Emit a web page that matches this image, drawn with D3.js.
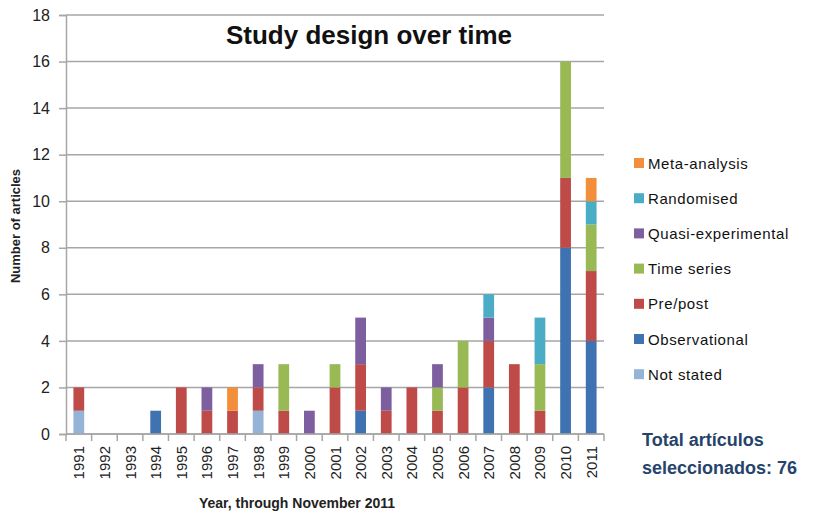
<!DOCTYPE html>
<html>
<head>
<meta charset="utf-8">
<script src="https://cdn.jsdelivr.net/npm/d3@7"></script>
<style>
	body { margin: 0; background: #fff; }
	svg { display: block; font-family: 'Liberation Sans', Arial, sans-serif; }
</style>
</head>
<body>
<div id="canvas"></div>
<script>
// Data
var years = ['1991', '1992', '1993', '1994', '1995', '1996', '1997', '1998', '1999', '2000',
	'2001', '2002', '2003', '2004', '2005', '2006', '2007', '2008', '2009', '2010', '2011'];
var seriesNames = ['Not stated', 'Observational', 'Pre/post', 'Time series',
	'Quasi-experimental', 'Randomised', 'Meta-analysis'];
var notStated      = [1, 0, 0, 0, 0, 0, 0, 1, 0, 0, 0, 0, 0, 0, 0, 0, 0, 0, 0, 0, 0];
var observational  = [0, 0, 0, 1, 0, 0, 0, 0, 0, 0, 0, 1, 0, 0, 0, 0, 2, 0, 0, 8, 4];
var prePost        = [1, 0, 0, 0, 2, 1, 1, 1, 1, 0, 2, 2, 1, 2, 1, 2, 2, 3, 1, 3, 3];
var timeSeries     = [0, 0, 0, 0, 0, 0, 0, 0, 2, 0, 1, 0, 0, 0, 1, 2, 0, 0, 2, 5, 2];
var quasi          = [0, 0, 0, 0, 0, 1, 0, 1, 0, 1, 0, 2, 1, 0, 1, 0, 1, 0, 0, 0, 0];
var randomised     = [0, 0, 0, 0, 0, 0, 0, 0, 0, 0, 0, 0, 0, 0, 0, 0, 1, 0, 2, 0, 1];
var metaAnalysis   = [0, 0, 0, 0, 0, 0, 1, 0, 0, 0, 0, 0, 0, 0, 0, 0, 0, 0, 0, 0, 1];
var yTicks = [0, 2, 4, 6, 8, 10, 12, 14, 16, 18];

var seriesValues = [notStated, observational, prePost, timeSeries, quasi, randomised, metaAnalysis];
var colors = d3.scaleOrdinal()
	.domain(seriesNames)
	.range(['#95b3d7', '#3f72b0', '#be4b48', '#98b954', '#7d5fa0', '#4aacc5', '#f38e3b']);

var rows = years.map(function(y, i) {
	var row = { year: y };
	seriesNames.forEach(function(name, s) {
		row[name] = seriesValues[s][i];
	});
	return row;
});
var series = d3.stack().keys(seriesNames)(rows);

// UI
var outerWidth = 818,
	outerHeight = 515,
	margin = { top: 15, left: 66, right: 214, bottom: 81 },
	width = outerWidth - margin.left - margin.right,
	height = outerHeight - margin.top - margin.bottom;

var svg = d3.select('#canvas').append('svg')
	.attr('width', outerWidth)
	.attr('height', outerHeight);

var g = svg.append('g')
	.attr('transform', 'translate(' + margin.left + ',' + margin.top + ')');

var xScale = d3.scaleBand().domain(years).range([0, width]).paddingInner(0.58).paddingOuter(0.29);
var yScale = d3.scaleLinear().domain([0, 18]).range([height, 0]);

// Gridlines
g.append('g')
	.selectAll('line')
	.data(yTicks)
	.enter().append('line')
	.attr('x1', 0)
	.attr('x2', width)
	.attr('y1', function(d) { return yScale(d); })
	.attr('y2', function(d) { return yScale(d); })
	.attr('stroke', '#a6a6a6')
	.attr('stroke-width', 1.5);

// y-axis
var yAxis = g.append('g')
	.call(d3.axisLeft(yScale).tickValues(yTicks).tickSize(7).tickPadding(9));
yAxis.select('.domain').attr('stroke', '#a6a6a6').attr('stroke-width', 1.5);
yAxis.selectAll('.tick line').attr('stroke', '#a6a6a6').attr('stroke-width', 1.5);
yAxis.selectAll('text')
	.attr('font-size', 16)
	.attr('fill', '#222');

// Bars
g.append('g')
	.selectAll('g')
	.data(series)
	.enter().append('g')
	.attr('fill', function(d) { return colors(d.key); })
	.selectAll('rect')
	.data(function(d) { return d; })
	.enter().append('rect')
	.attr('x', function(d) { return xScale(d.data.year); })
	.attr('width', xScale.bandwidth())
	.attr('y', function(d) { return yScale(d[1]); })
	.attr('height', function(d) { return yScale(d[0]) - yScale(d[1]); });

// x-axis
var step = xScale.step();
var xAxis = g.append('g')
	.attr('transform', 'translate(0,' + height + ')');
xAxis.append('line')
	.attr('x1', 0).attr('x2', width)
	.attr('stroke', '#a6a6a6').attr('stroke-width', 1.5);
xAxis.selectAll('.xtick')
	.data(years.concat(['end']))
	.enter().append('line')
	.attr('x1', function(d, i) { return i * step; })
	.attr('x2', function(d, i) { return i * step; })
	.attr('y1', 0).attr('y2', 7)
	.attr('stroke', '#a6a6a6').attr('stroke-width', 1.5);
xAxis.selectAll('text')
	.data(years)
	.enter().append('text')
	.attr('transform', function(d) {
		return 'translate(' + (xScale(d) + xScale.bandwidth() / 2 + 5.5) + ',12) rotate(-90)';
	})
	.attr('text-anchor', 'end')
	.attr('font-size', 15)
	.attr('fill', '#222')
	.text(function(d) { return d; });

// Axis titles
svg.append('text')
	.attr('x', 297)
	.attr('y', 508)
	.attr('text-anchor', 'middle')
	.attr('font-size', 14)
	.attr('font-weight', 'bold')
	.attr('fill', '#222')
	.text('Year, through November 2011');

svg.append('text')
	.attr('transform', 'translate(20,226) rotate(-90)')
	.attr('text-anchor', 'middle')
	.attr('font-size', 13)
	.attr('font-weight', 'bold')
	.attr('fill', '#222')
	.text('Number of articles');

// Title
svg.append('text')
	.attr('x', 369)
	.attr('y', 44)
	.attr('text-anchor', 'middle')
	.attr('font-size', 26)
	.attr('font-weight', 'bold')
	.attr('fill', '#111')
	.text('Study design over time');

// Legend
var legend = svg.append('g')
	.attr('transform', 'translate(634,163)');
var items = legend.selectAll('g')
	.data(seriesNames.slice().reverse())
	.enter().append('g')
	.attr('transform', function(d, i) { return 'translate(0,' + (i * 35.2) + ')'; });
items.append('rect')
	.attr('x', 0).attr('y', -5)
	.attr('width', 10).attr('height', 10)
	.attr('fill', function(d) { return colors(d); });
items.append('text')
	.attr('x', 14)
	.attr('y', 5.5)
	.attr('font-size', 15)
	.attr('letter-spacing', 0.6)
	.attr('fill', '#111')
	.text(function(d) { return d; });

// Total note
var note = svg.append('text')
	.attr('font-size', 18)
	.attr('font-weight', 'bold')
	.attr('fill', '#26436b');
note.append('tspan').attr('x', 642).attr('y', 446).text('Total artículos');
note.append('tspan').attr('x', 642).attr('y', 474).text('seleccionados: 76');
</script>
</body>
</html>
